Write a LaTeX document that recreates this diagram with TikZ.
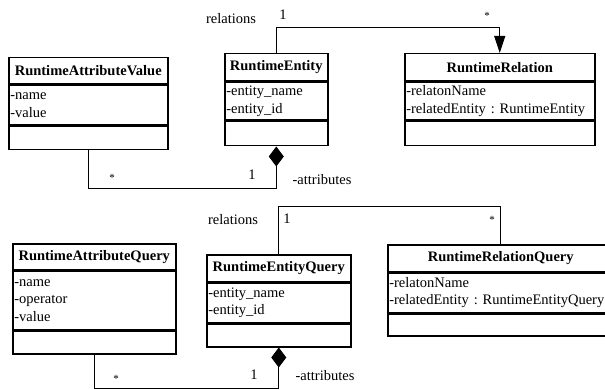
\documentclass[tikz,border=0pt]{standalone}
\usepackage{fontspec}
\setmainfont{Liberation Serif}
\usetikzlibrary{arrows.meta}
\frenchspacing
\begin{document}
\begin{tikzpicture}[x=1pt,y=-1pt,
  every node/.style={font=\fontsize{14.5}{17.5}\selectfont, inner sep=0pt},
  box/.style={draw, line width=1.5pt, anchor=north west, inner xsep=1.5pt, inner ysep=0pt},
  ctitle/.style={box, font=\fontsize{14.5}{17.5}\selectfont\bfseries, align=center},
  cattr/.style={box, align=left},
  cops/.style={box},
  conn/.style={line width=1pt},
  comp/.style={conn, {Diamond[length=20pt,width=15pt]}-},
  nav/.style={conn, -{Triangle[length=17pt,width=11pt]}},
  many/.style={font=\fontsize{11}{13}\selectfont}]

% canvas
\fill[white] (0,0) rectangle (605,390);
\useasboundingbox (0,0) rectangle (605,390);
\clip (0,0) rectangle (605,390);

% ---- runtime model ----
\node[ctitle, minimum width=159pt, minimum height=26pt] (ravT) at (8,57) {RuntimeAttributeValue};
\node[cattr, text width=156pt, minimum height=40pt] (ravA) at (ravT.south west) {-name\\-value};
\node[cops, minimum width=159pt, minimum height=23pt] (ravO) at (ravA.south west) {};

\node[ctitle, minimum width=103pt, minimum height=27pt] (reT) at (224,53) {RuntimeEntity};
\node[cattr, text width=100pt, minimum height=38pt] (reA) at (reT.south west) {-entity\_name\\-entity\_id};
\node[cops, minimum width=103pt, minimum height=24pt] (reO) at (reA.south west) {};

\node[ctitle, minimum width=190pt, minimum height=27pt] (rrT) at (404,53) {RuntimeRelation};
\node[cattr, text width=187pt, minimum height=38pt] (rrA) at (rrT.south west) {-relatonName\\-relatedEntity : RuntimeEntity};
\node[cops, minimum width=190pt, minimum height=24pt] (rrO) at (rrA.south west) {};

\draw[nav] (reT.north) -- ++(0,-25) -| (rrT.north);
\draw[comp] (reO.south) -- ++(0,42) -| (ravO.south);

\node (relA) at (231,19) {relations};
\node (oneA) at (283,15) {1};
\node[many] (starA) at (487,16) {*};
\node[many] (starB) at (112,178) {*};
\node (oneB) at (252,175) {1};
\node (attrA) at (322,180) {-attributes};

% ---- query model ----
\node[ctitle, minimum width=163pt, minimum height=26pt] (raqT) at (12,243) {RuntimeAttributeQuery};
\node[cattr, text width=160pt, minimum height=58pt] (raqA) at (raqT.south west) {-name\\-operator\\-value};
\node[cops, minimum width=163pt, minimum height=23pt] (raqO) at (raqA.south west) {};

\node[ctitle, minimum width=144pt, minimum height=27pt] (reqT) at (206,254) {RuntimeEntityQuery};
\node[cattr, text width=141pt, minimum height=39pt] (reqA) at (reqT.south west) {-entity\_name\\-entity\_id};
\node[cops, minimum width=144pt, minimum height=23pt] (reqO) at (reqA.south west) {};

\node[ctitle, minimum width=226pt, minimum height=27pt] (rrqT) at (387,244) {RuntimeRelationQuery};
\node[cattr, text width=223pt, minimum height=39pt] (rrqA) at (rrqT.south west) {-relatonName\\-relatedEntity : RuntimeEntityQuery};
\node[cops, minimum width=226pt, minimum height=22pt] (rrqO) at (rrqA.south west) {};

\draw[conn] (reqT.north) -- ++(0,-47) -| (rrqT.north);
\coordinate (attrBend) at ([yshift=-41pt]reqO.south);
\draw[comp] (reqO.south) -- (attrBend) -| (raqO.south);

\node (relB) at (233,220) {relations};
\node (oneC) at (287,219) {1};
\node[many] (starC) at (492,220) {*};
\node[many] (starD) at (116,379) {*};
\node (oneD) at (254,375) {1};
\node (attrB) at (325,376) {-attributes};
\end{tikzpicture}
\end{document}
